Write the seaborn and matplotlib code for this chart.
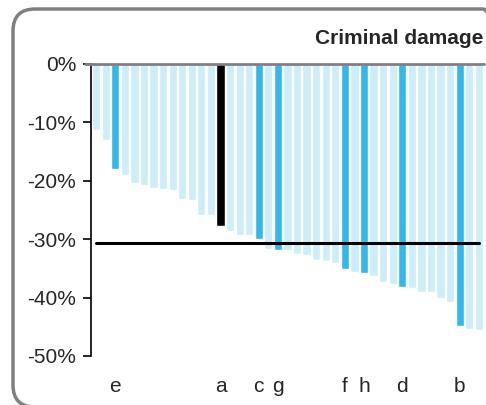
import numpy as np
import pandas as pd
import matplotlib
matplotlib.use("Agg")
import matplotlib.pyplot as plt
import matplotlib.patches as mpatches
from matplotlib.transforms import IdentityTransform
import seaborn as sns

# =========================================================
# DATA (percent change)
# =========================================================

values = [
    -11.3, -13.0, -18.0, -19.0, -20.4, -20.7, -21.3, -21.4, -21.6, -23.1,
    -23.3, -25.9, -25.9, -27.8, -28.6, -29.3, -29.3, -30.0, -31.7, -31.9,
    -31.9, -32.6, -32.7, -33.6, -33.8, -34.1, -35.1, -35.7, -35.8, -36.3,
    -37.4, -37.7, -38.2, -38.4, -39.1, -39.1, -40.1, -40.8, -44.9, -45.4,
    -45.6,
]

# labelled bars: index -> letter
label_idx = [2, 13, 17, 19, 26, 28, 32, 38]
label_txt = ["e", "a", "c", "g", "f", "h", "d", "b"]
black_idx = 13

average = -30.6
title = "Criminal damage"
yticks = [0, -10, -20, -30, -40, -50]

light = "#cdedf9"
blue = "#33b9e9"

df = pd.DataFrame({"pos": np.arange(len(values)), "value": values})
colors = []
for i in df["pos"]:
    if i == black_idx:
        colors.append("black")
    elif i in label_idx:
        colors.append(blue)
    else:
        colors.append(light)

# =========================================================
# PLOT
# =========================================================

sns.set_style("white")
plt.rcParams["font.family"] = ["Liberation Sans", "DejaVu Sans"]

fig = plt.figure(figsize=(4.86, 4.05), dpi=100)
ax = fig.add_axes([0.188, 0.121, 0.807, 0.721])

sns.barplot(
    data=df, x="pos", y="value", hue="pos",
    palette=colors, legend=False, width=0.86,
    saturation=1, ax=ax,
)

ax.set_xlim(-0.5, len(values) - 0.5)
ax.set_ylim(-50, 0)

# zero line
ax.axhline(0, xmin=-0.016, xmax=1, color="#808080", lw=2, clip_on=False, zorder=5)

# average line
ax.plot([0, len(values) - 1], [average, average], color="black", lw=2.2, zorder=6)

ax.set_yticks(yticks)
ax.set_yticklabels([f"{v}%" for v in yticks])
ax.set_xticks(label_idx)
ax.set_xticklabels(label_txt)

ax.tick_params(axis="y", left=True, length=6, width=1.2, color="black",
               labelsize=15, pad=5)
ax.tick_params(axis="x", bottom=False, length=0, labelsize=15, pad=15)

ax.set_xlabel("")
ax.set_ylabel("")

for s in ["top", "right", "bottom"]:
    ax.spines[s].set_visible(False)
ax.spines["left"].set_color("black")
ax.spines["left"].set_linewidth(1.2)

fig.text(0.994, 0.905, title, ha="right", va="center",
         fontsize=15, fontweight="bold")

# rounded frame round the chart (right edge runs off the picture)
frame = mpatches.FancyBboxPatch(
    (13, -2), 492, 398,
    boxstyle="round,pad=0,rounding_size=22",
    transform=IdentityTransform(),
    facecolor="none", edgecolor="#808080", lw=2.5,
)
fig.add_artist(frame)

fig.savefig("out.png", dpi=100)
